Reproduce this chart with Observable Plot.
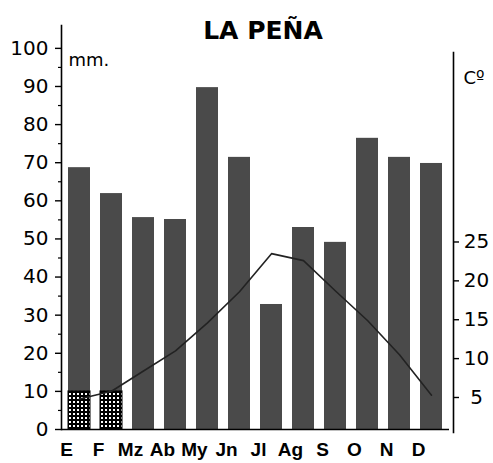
<!DOCTYPE html>
<html>
<head>
<meta charset="utf-8">
<script src="https://cdn.jsdelivr.net/npm/d3@7"></script>
<script src="https://cdn.jsdelivr.net/npm/@observablehq/plot@0.6"></script>
<style>
  html, body { margin: 0; padding: 0; background: #fff; }
  #chart svg { display: block; }
</style>
</head>
<body>
<div id="chart"></div>
<script>
// ---- data ----
const months = ["E", "F", "Mz", "Ab", "My", "Jn", "Jl", "Ag", "S", "O", "N", "D"];
const precipitation = [68.7, 61.9, 55.6, 55.1, 89.7, 71.4, 32.8, 53.0, 49.1, 76.4, 71.4, 69.8]; // mm
const temperature = [4.8, 5.8, 8.4, 11.0, 14.6, 18.6, 23.5, 22.6, 18.7, 14.9, 10.5, 5.3];     // ºC
const frostMonths = ["E", "F"];
const frostLevel = 10; // mm, dotted base on frost months
const precipTicks = [0, 10, 20, 30, 40, 50, 60, 70, 80, 90, 100];
const precipMinorTicks = [5, 15, 25, 35, 45, 55, 65, 75, 85, 95];
const tempTicks = [5, 10, 15, 20, 25];
const title = "LA PEÑA";
const unitLeft = "mm.";
const unitRight = "Cº";

// temperature drawn on the precipitation scale (≈ 2 mm per ºC)
const tmap = t => t * 2.04 - 1.8;

const data = months.map((m, i) => ({
  m, p: precipitation[i], t: temperature[i], frost: frostMonths.includes(m)
}));
const frostData = data.filter(d => d.frost);

const chart = Plot.plot({
  width: 493,
  height: 463,
  marginLeft: 61,
  marginRight: 44,
  marginTop: 25,
  marginBottom: 34,
  style: { fontFamily: "DejaVu Sans", background: "white", color: "black" },
  x: { domain: months, paddingInner: 0.3, paddingOuter: 0.078, axis: null },
  y: { domain: [0, 106], axis: null },
  marks: [
    Plot.barY(data, { x: "m", y1: d => d.frost ? frostLevel : 0, y2: "p", fill: "#4a4a4a" }),
    Plot.barY(frostData, { x: "m", y1: 0, y2: frostLevel, fill: "url(#dots)", stroke: "black", strokeWidth: 1 }),
    Plot.ruleY([0], { stroke: "black", strokeWidth: 1.5 }),
    Plot.line(data, { x: "m", y: d => tmap(d.t), stroke: "#222", strokeWidth: 1.6 }),
    Plot.frame({ anchor: "left", stroke: "black", strokeWidth: 1.6 }),
    Plot.frame({ anchor: "right", stroke: "black", strokeWidth: 1.6, insetRight: -4, insetTop: 27, insetBottom: -3 }),
    Plot.axisY({ anchor: "left", ticks: precipTicks, tickSize: 6, tickPadding: 7, fontSize: 20, label: null, strokeWidth: 1.4 }),
    Plot.axisY({ anchor: "left", ticks: precipMinorTicks, tickSize: 3, text: null, label: null, strokeWidth: 1.2 }),
    Plot.axisY({ anchor: "right", ticks: tempTicks.map(tmap), tickSize: 5, dx: 4, text: null, label: null, strokeWidth: 1.4 }),
    Plot.text(tempTicks, { y: tmap, text: d => String(d), frameAnchor: "right", dx: 27, textAnchor: "middle", fontSize: 20, ariaLabel: "temp-labels" }),
    Plot.axisX({ anchor: "bottom", tickSize: 0, tickPadding: 13, dx: -13, fontSize: 19, fontWeight: "bold", fontFamily: "Liberation Sans", label: null }),
    Plot.text([title], { frameAnchor: "top", dx: 7.5, dy: 13, lineAnchor: "bottom", fontSize: 25, fontWeight: "bold", ariaLabel: "title" }),
    Plot.text([unitLeft], { frameAnchor: "top-left", dx: 7, dy: 40, textAnchor: "start", lineAnchor: "bottom", fontSize: 18 }),
    Plot.text([unitRight], { frameAnchor: "top-right", dx: 14, dy: 58, textAnchor: "start", lineAnchor: "bottom", fontSize: 18 })
  ]
});

// dotted pattern for frost months
const svg = d3.select(chart);
const defs = svg.insert("defs", ":first-child");
const pat = defs.append("pattern").attr("id", "dots").attr("patternUnits", "userSpaceOnUse")
  .attr("width", 4).attr("height", 4);
pat.append("rect").attr("width", 4).attr("height", 4).attr("fill", "black");
pat.append("rect").attr("x", 1).attr("y", 1).attr("width", 2).attr("height", 2).attr("fill", "white");

svg.selectAll('g[aria-label="temp-labels"] text').style("letter-spacing", "5px");
svg.selectAll('g[aria-label="title"] text').style("letter-spacing", "2.8px");

document.getElementById("chart").append(chart);
</script>
</body>
</html>
